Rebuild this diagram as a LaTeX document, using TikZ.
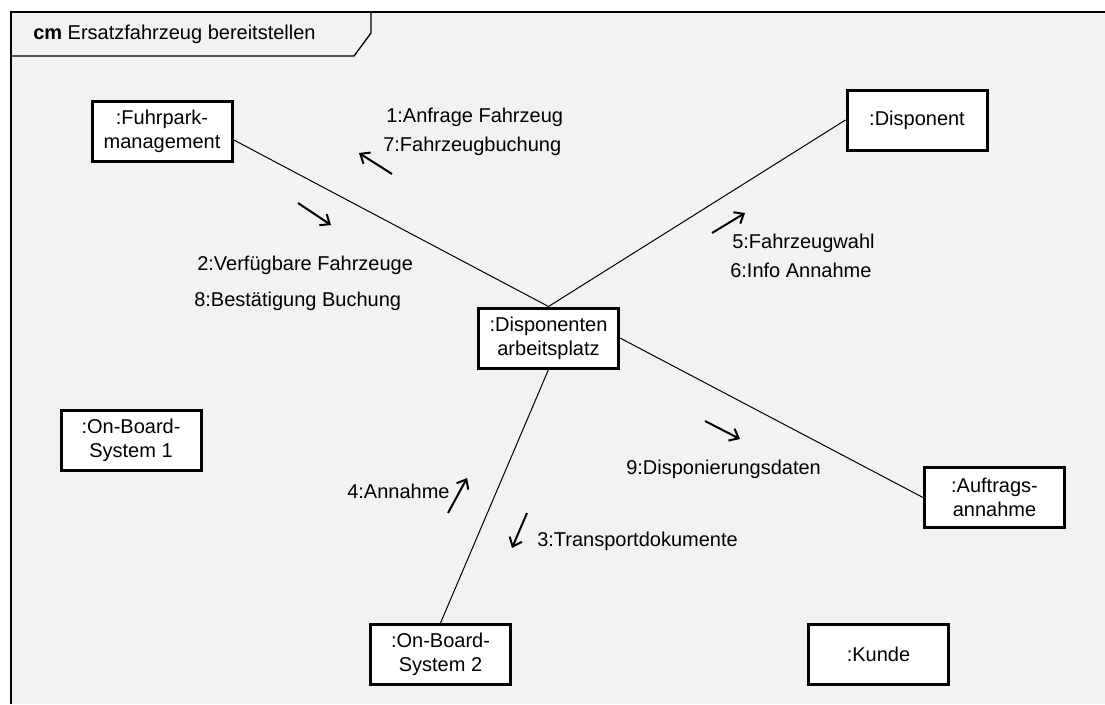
\documentclass[tikz,border=0pt]{standalone}
\usepackage{fontspec}
\setmainfont{Liberation Sans}
\usetikzlibrary{arrows.meta,calc}
\definecolor{bggray}{RGB}{242,242,242}
\begin{document}
\begin{tikzpicture}[x=0.75pt,y=-0.75pt,
  font=\fontsize{15pt}{18pt}\selectfont,
  obj/.style={draw=black,line width=2.25pt,fill=white,minimum width=105pt,minimum height=45pt,inner sep=0pt,align=center},
  conn/.style={draw=black,line width=0.75pt},
  msg/.style={draw=black,line width=1.5pt,-{Straight Barb[length=6pt,width=10pt,line width=1.5pt]}},
  lbl/.style={anchor=base west,inner sep=0pt}]
\useasboundingbox (0,0) rectangle (1105,704);
\fill[white] (0,0) rectangle (1105,704);
\fill[bggray] (11,12) rectangle (1105,704);
% frame
\draw[line width=1pt] (1105,12) -- (11,12) -- (11,704);
\draw[line width=1pt] (11,56) -- (354,56) -- (371,33) -- (371,12);
\node[lbl] (title) at (33,39) {\textbf{cm} Ersatzfahrzeug bereitstellen};
% objects
\node[obj] (fuhr) at (162,131) {:Fuhrpark-\\management};
\node[obj] (disp) at (917,120) {:Disponent};
\node[obj] (arb) at (548.5,338) {:Disponenten\\arbeitsplatz};
\node[obj] (obs1) at (131,440) {:On-Board-\\System 1};
\node[obj] (auf) at (994.5,497.5) {:Auftrags-\\annahme};
\node[obj] (obs2) at (440.5,654.5) {:On-Board-\\System 2};
\node[obj] (kunde) at (878.5,654.5) {:Kunde};
% links
\draw[conn] ($(fuhr.north east)!0.64!(fuhr.south east)$) -- (arb.north);
\draw[conn] (disp.west) -- (arb.north);
\draw[conn] (arb.east) -- (auf.west);
\draw[conn] (arb.south) -- (obs2.north);
% message arrows
\coordinate (a1s) at (392,174); \coordinate (a1e) at (359,153);
\coordinate (a2s) at (298,203); \coordinate (a2e) at (331,225);
\coordinate (a5s) at (712,233); \coordinate (a5e) at (745,213);
\coordinate (a9s) at (705,421); \coordinate (a9e) at (740,439);
\coordinate (a4s) at (448,513); \coordinate (a4e) at (467,478);
\coordinate (a3s) at (527,513); \coordinate (a3e) at (512,548);
\draw[msg] (a1s) -- (a1e);
\draw[msg] (a2s) -- (a2e);
\draw[msg] (a5s) -- (a5e);
\draw[msg] (a9s) -- (a9e);
\draw[msg] (a4s) -- (a4e);
\draw[msg] (a3s) -- (a3e);
% labels
\node[lbl] (l1) at (386,122) {1:Anfrage Fahrzeug};
\node[lbl] (l7) at (383,151) {7:Fahrzeugbuchung};
\node[lbl] (l2) at (197,270) {2:Verfügbare Fahrzeuge};
\node[lbl] (l8) at (194,306) {8:Bestätigung Buchung};
\node[lbl] (l5) at (732,248) {5:Fahrzeugwahl};
\node[lbl] (l6) at (730,277) {6:Info Annahme};
\node[lbl] (l9) at (626,474) {9:Disponierungsdaten};
\node[lbl] (l4) at (347,498) {4:Annahme};
\node[lbl] (l3) at (537,546) {3:Transportdokumente};
\end{tikzpicture}
\end{document}
